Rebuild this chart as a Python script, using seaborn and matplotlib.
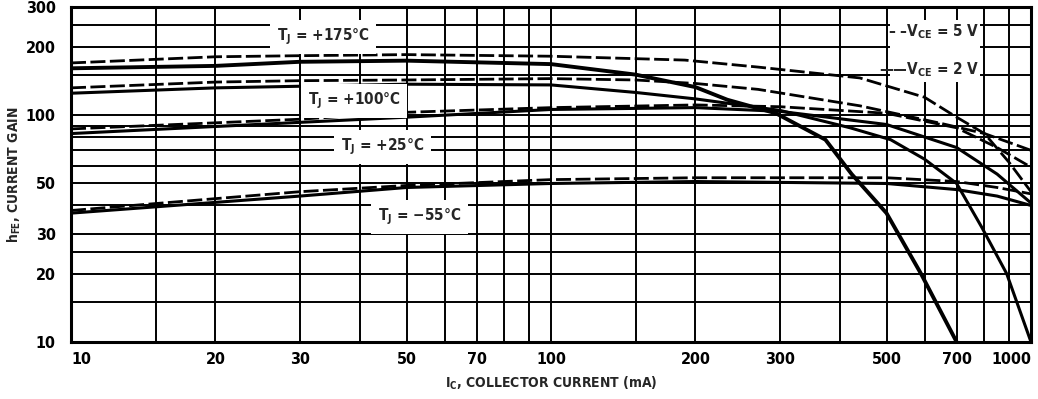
import matplotlib
matplotlib.use("Agg")
import matplotlib.pyplot as plt
import numpy as np
import pandas as pd
import seaborn as sns
from matplotlib import font_manager as fm
from matplotlib.patches import Rectangle
from matplotlib.ticker import FixedLocator, FuncFormatter

# Collector current (mA) and DC current gain for each junction temperature.
# "5v" curves are drawn dashed, "2v" curves solid.
ic_175_5v = [10, 20, 30, 50, 100, 190, 270, 440, 600, 700, 800, 900, 1000]
hfe_175_5v = [170, 181, 183, 185, 182, 175, 163, 146, 120, 98, 83, 62, 46]
ic_175_2v = [10, 20, 30, 50, 100, 150, 200, 233, 294, 373, 423, 500, 590, 700]
hfe_175_2v = [161, 165, 172, 174, 168, 151, 133, 117, 102, 78, 55, 37, 20, 10]

ic_100_5v = [10, 20, 30, 50, 100, 150, 200, 270, 440, 650, 800, 1000]
hfe_100_5v = [132, 140, 142, 143, 145, 143, 138, 130, 110, 92, 83, 70]
ic_100_2v = [10, 20, 50, 100, 150, 200, 300, 420, 510, 600, 700, 790, 890, 1000]
hfe_100_2v = [125, 132, 137, 136, 126, 118, 105, 88, 78, 64, 50, 32, 20, 10]

ic_25_5v = [10, 30, 50, 100, 200, 300, 500, 700, 850, 1000]
hfe_25_5v = [87, 96, 103, 108, 111, 109, 102, 88, 72, 59]
ic_25_2v = [10, 30, 50, 100, 200, 300, 500, 700, 850, 1000]
hfe_25_2v = [83, 93, 98, 106, 108, 104, 91, 72, 55, 41]

ic_m55_5v = [10, 30, 50, 100, 200, 500, 700, 850, 1000]
hfe_m55_5v = [38, 46, 49, 52, 53, 53, 51, 48, 45]
ic_m55_2v = [10, 30, 50, 100, 200, 500, 700, 850, 1000]
hfe_m55_2v = [37, 44, 48, 50, 51, 50, 47, 44, 40]

# Grid of the log-log chart paper and the values that carry labels
x_grid = [10, 15, 20, 30, 40, 50, 60, 70, 80, 90, 100, 150, 200, 300, 400,
          500, 600, 700, 800, 900, 1000]
y_grid = [10, 15, 20, 25, 30, 40, 50, 60, 70, 80, 90, 100, 150, 200, 250, 300]
x_labels = [10, 20, 30, 50, 70, 100, 200, 300, 500, 700, 1000]
y_labels = [10, 20, 30, 50, 100, 200, 300]

temp_labels = ["T$_J$ = +175°C", "T$_J$ = +100°C", "T$_J$ = +25°C", "T$_J$ = −55°C"]
vce_legend = "– –V$_{CE}$ = 5 V\n——V$_{CE}$ = 2 V"

sns.set_theme(style="white")


def condensed_bold():
    """Pick a narrow bold sans face if one is installed."""
    prefs = ["LiberationSansNarrow-Bold", "NotoSans-CondensedBold",
             "DejaVuSansCondensed-Bold", "NotoSans-SemiCondensedBold",
             "LiberationSans-Bold"]
    entries = fm.fontManager.ttflist
    for key in prefs:
        for f in entries:
            if key + "." in f.fname.split("/")[-1]:
                return f
    return None


face = condensed_bold()
if face is not None:
    fam, stretch = face.name, face.stretch
    spec = f"{fam}:weight=bold:stretch={stretch}"
else:
    fam, stretch, spec = "DejaVu Sans", "normal", "DejaVu Sans:bold"

plt.rcParams["font.family"] = [fam, "DejaVu Sans"]
plt.rcParams["font.weight"] = "bold"
plt.rcParams["font.stretch"] = stretch
plt.rcParams["mathtext.fontset"] = "custom"
plt.rcParams["mathtext.rm"] = spec
plt.rcParams["mathtext.it"] = spec
plt.rcParams["mathtext.bf"] = spec
plt.rcParams["mathtext.sf"] = spec
plt.rcParams["mathtext.default"] = "rm"

fig = plt.figure(figsize=(10.38, 3.99), dpi=100)
ax = fig.add_axes([71 / 1038, 1 - 342 / 399, 960 / 1038, 335 / 399])

curves = [
    (ic_175_5v, hfe_175_5v, "5v", 2.0),
    (ic_175_2v, hfe_175_2v, "2v", 2.8),
    (ic_100_5v, hfe_100_5v, "5v", 2.0),
    (ic_100_2v, hfe_100_2v, "2v", 2.2),
    (ic_25_5v, hfe_25_5v, "5v", 2.0),
    (ic_25_2v, hfe_25_2v, "2v", 2.2),
    (ic_m55_5v, hfe_m55_5v, "5v", 2.0),
    (ic_m55_2v, hfe_m55_2v, "2v", 2.2),
]
for ic, hfe, vce, lw in curves:
    df = pd.DataFrame({"ic": ic, "hfe": hfe})
    line_kw = dict(dashes=(5.4, 1.6)) if vce == "5v" else dict(linestyle="-")
    sns.lineplot(data=df, x="ic", y="hfe", ax=ax, color="black", lw=lw,
                 sort=False, zorder=3, **line_kw)

ax.set_xscale("log")
ax.set_yscale("log")
ax.set_xlim(10, 1000)
ax.set_ylim(10, 300)

ax.xaxis.set_major_locator(FixedLocator(x_grid))
ax.yaxis.set_major_locator(FixedLocator(y_grid))
ax.xaxis.set_minor_locator(FixedLocator([]))
ax.yaxis.set_minor_locator(FixedLocator([]))
ax.xaxis.set_major_formatter(FuncFormatter(lambda v, p: f"{v:g}" if round(v) in x_labels else ""))
ax.yaxis.set_major_formatter(FuncFormatter(lambda v, p: f"{v:g}" if round(v) in y_labels else ""))
ax.tick_params(axis="both", length=0, labelsize=11.5, colors="black")
ax.tick_params(axis="x", pad=7)
ax.tick_params(axis="y", pad=11)
fig.canvas.draw()
xt = ax.get_xticklabels()
for lab in xt + ax.get_yticklabels():
    lab.set_fontweight("bold")
# the end labels sit inside the frame
for lab, v in zip(xt, x_grid):
    if v == 10:
        lab.set_horizontalalignment("left")
    elif v == 1000:
        lab.set_horizontalalignment("right")

ax.grid(True, which="major", color="black", lw=1.4)
ax.set_axisbelow(True)
for sp in ax.spines.values():
    sp.set_color("black")
    sp.set_linewidth(2.2)

ax.set_xlabel(r"I$_C$, COLLECTOR CURRENT (mA)", fontsize=10, fontweight="bold",
              labelpad=6)
ax.set_ylabel(r"h$_{FE}$, CURRENT GAIN", fontsize=10, fontweight="bold",
              labelpad=2)

box = dict(facecolor="white", edgecolor="none", pad=5)
label_kw = dict(fontsize=11, fontweight="bold", ha="center", va="center",
                zorder=5, bbox=box)
ax.text(33.5, 221, temp_labels[0], **label_kw)
ax.text(38.9, 115.6, temp_labels[1], **label_kw)
ax.text(44.5, 72.3, temp_labels[2], **label_kw)
ax.text(53.3, 35.6, temp_labels[3], **label_kw)

# white panel behind the VCE key
ax.add_patch(Rectangle((0.853, 0.776), 0.094, 0.185, transform=ax.transAxes,
                       facecolor="white", edgecolor="none", zorder=4))
ax.text(0.946, 0.87, vce_legend, transform=ax.transAxes, fontsize=11,
        fontweight="bold", ha="right", va="center", linespacing=2.4, zorder=5)

fig.savefig("out.png", dpi=100)
